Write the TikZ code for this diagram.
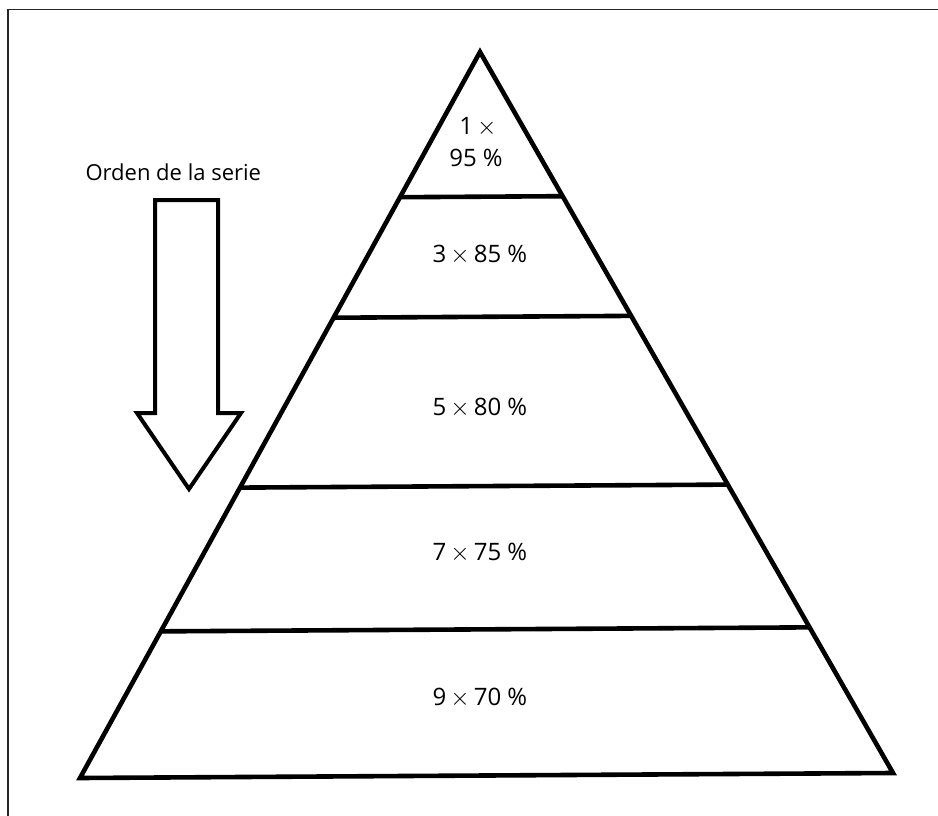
\documentclass[tikz,border=0pt]{standalone}
\usepackage{fontspec}
\setmainfont{Open Sans}
\usetikzlibrary{calc}
\tikzset{
  every picture/.style={line join=miter, line cap=butt},
  level/.style={font=\fontsize{24}{28}\selectfont, align=center},
  title/.style={font=\fontsize{22}{26}\selectfont},
  frame/.style={line width=1.4pt, black!85},
  pyr/.style={line width=4.6pt},
  bigarrow/.style={line width=4pt},
}
\begin{document}
\begin{tikzpicture}[x=1pt,y=-1pt]
\useasboundingbox (0,0) rectangle (938,816);
\draw[frame](8,816)--(8,9.5)--(938,9.5);
\coordinate(apex) at (480,52);
\coordinate(bl) at (80,778);
\coordinate(br) at (893,773);
\draw[pyr](apex)--(bl)--(br)--cycle;
\foreach \t[count=\i] in {0.2,0.366,0.6,0.798}
  \draw[pyr]($(apex)!\t!(bl)$)--($(apex)!\t!(br)$);
\draw[bigarrow](155,200)--(218,200)--(218,413)--(241,413)--(189,489)--(137,413)--(155,413)--cycle;
\node[title,anchor=west](orden) at (82,172){Orden de la serie};
\node[level](l1a) at (478,127){1\,$\times$};
\node[level](l1b) at (476,158){95 \%};
\node[level](l3) at (480,255){3\,$\times$\,85 \%};
\node[level](l5) at (480,408){5\,$\times$\,80 \%};
\node[level](l7) at (480,553){7\,$\times$\,75 \%};
\node[level](l9) at (480,698){9\,$\times$\,70 \%};
\end{tikzpicture}
\end{document}
